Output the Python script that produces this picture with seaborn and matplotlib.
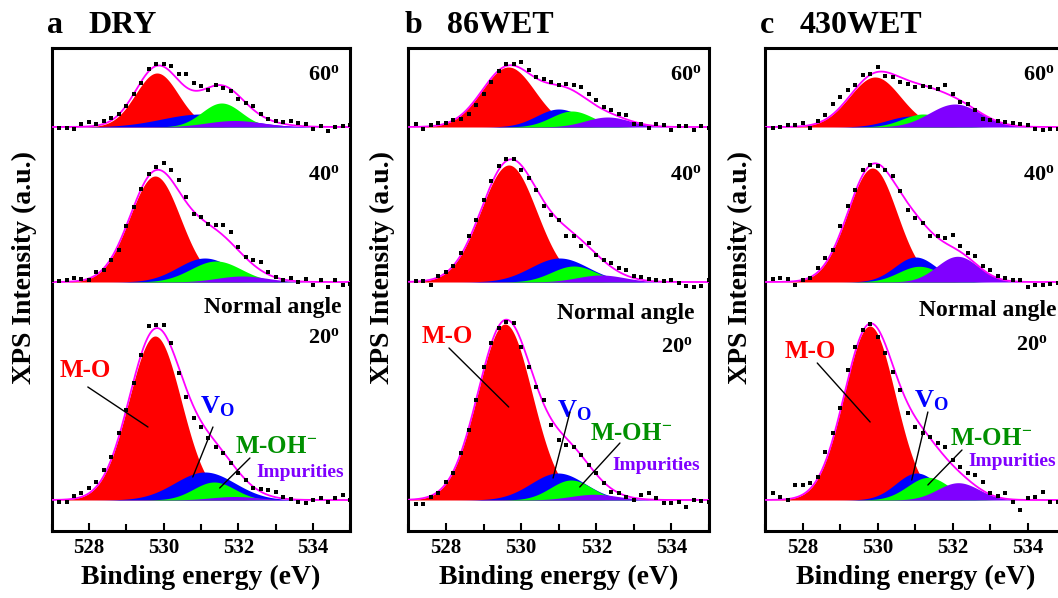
import numpy as np
import matplotlib
matplotlib.use("Agg")
import matplotlib.pyplot as plt
import seaborn as sns
from matplotlib.ticker import MultipleLocator

# ---- données ----
energy = [527.0, 527.2, 527.4, 527.6, 527.8, 528.0, 528.2, 528.4, 528.6, 528.8,
          529.0, 529.2, 529.4, 529.6, 529.8, 530.0, 530.2, 530.4, 530.6, 530.8,
          531.0, 531.2, 531.4, 531.6, 531.8, 532.0, 532.2, 532.4, 532.6, 532.8,
          533.0, 533.2, 533.4, 533.6, 533.8, 534.0, 534.2, 534.4, 534.6, 534.8, 535.0]

angles = ["60", "40", "20"]
offsets = [373, 218, 0]   # decalage vertical de chaque spectre
components = ["M-O", "V_O", "M-OH", "Impurities"]
fill_colors = ["#ff0000", "#0000ff", "#00ff00", "#8000ff"]

# points experimentaux (intensite au-dessus de la ligne de base), 60 / 40 / 20 deg
dry_60 = [-3, -1, -1, -2, 3, 5, 3, 6, 9, 13, 21, 33, 44, 58, 63, 63, 61, 53, 53, 44,
          41, 37, 42, 39, 36, 28, 24, 21, 13, 8, 6, 5, 6, 4, 3, -2, 1, -4, 0, 1, 2]
dry_40 = [2, 1, 2, 4, 3, 2, 10, 12, 22, 32, 56, 75, 93, 108, 115, 119, 112, 102, 85, 68,
          65, 58, 57, 57, 50, 35, 25, 22, 20, 10, 5, 2, 4, 0, 3, -3, 2, -5, 2, -3, -2]
dry_20 = [3, -2, -2, 4, 7, 12, 18, 30, 43, 67, 90, 117, 145, 174, 175, 175, 157, 127, 103, 82,
          73, 62, 53, 47, 37, 27, 20, 12, 11, 10, 8, 3, 1, -2, -3, 0, 2, -2, 2, 5, 0]

wet86_60 = [3, 3, -2, 2, 4, 4, 7, 8, 13, 22, 33, 45, 56, 63, 63, 65, 57, 50, 48, 45,
            42, 43, 42, 40, 33, 27, 20, 17, 13, 12, 3, 3, -1, 3, 2, -3, 1, 1, -3, 1, -1]
wet86_40 = [4, 1, 1, -3, 6, 10, 16, 29, 46, 62, 82, 101, 116, 123, 123, 112, 104, 92, 76, 67,
            62, 46, 46, 36, 39, 27, 22, 19, 14, 12, 6, 5, 3, 2, 1, 2, -1, -4, -5, -4, 2]
wet86_20 = [-2, -4, -4, 3, 7, 18, 27, 47, 70, 100, 133, 157, 172, 178, 177, 153, 133, 113, 100, 75,
            60, 55, 53, 45, 35, 27, 17, 8, 7, 3, 0, 5, 7, 2, -3, -3, -2, -7, 0, -1, -2]

wet430_60 = [-2, -1, 0, 2, 2, 4, -1, 6, 12, 23, 30, 37, 42, 52, 53, 60, 51, 50, 45, 43,
             40, 41, 40, 38, 42, 33, 25, 23, 17, 8, 7, 6, 5, 4, 3, 2, -2, -3, -2, -2, -1]
wet430_40 = [4, 3, 4, 3, -3, 2, 4, 14, 24, 32, 56, 76, 92, 112, 117, 116, 112, 106, 91, 72,
             64, 59, 46, 46, 44, 47, 36, 29, 26, 16, 12, 6, 4, 2, 2, -5, -3, -3, -2, -1, -1]
wet430_20 = [3, 7, 3, 0, 15, 15, 17, 23, 48, 67, 92, 130, 153, 170, 176, 163, 147, 128, 110, 87,
             73, 67, 63, 57, 53, 40, 33, 27, 25, 18, 7, 4, 7, -2, -10, 2, 3, 8, -2, -2, 0]

# parametres des pics ajustes [M-O, Vo, M-OH, Impuretes] pour 60 / 40 / 20 deg
dry_center = [[529.82, 531.0, 531.55, 531.9], [529.77, 531.1, 531.4, 532.1], [529.77, 531.1, 531.35, 531.9]]
dry_height = [[54, 13, 24, 6.5], [106, 24, 21, 6], [164, 28, 18, 3.5]]
dry_fwhm = [[1.35, 2.5, 1.25, 1.8], [1.6, 1.7, 1.6, 1.6], [1.65, 1.9, 1.3, 1.5]]

wet86_center = [[529.66, 531.0, 531.35, 532.3], [529.67, 531.02, 531.4, 532.12], [529.57, 530.98, 531.33, 531.95]]
wet86_height = [[60, 18, 16, 10], [117, 24, 16, 7], [176, 27, 20, 5.7]]
wet86_fwhm = [[1.65, 1.4, 1.3, 1.4], [1.75, 1.8, 1.4, 1.5], [1.7, 1.7, 1.3, 1.5]]

wet430_center = [[529.92, 530.9, 531.2, 532.05], [529.85, 531.0, 531.1, 532.12], [529.78, 531.03, 531.34, 532.14]]
wet430_height = [[50, 11, 13, 23], [114, 25, 15.7, 25.7], [174, 27, 22.7, 17.3]]
wet430_fwhm = [[1.6, 1.5, 1.3, 1.6], [1.55, 1.3, 1.3, 1.3], [1.6, 1.3, 1.3, 1.3]]

samples = ["DRY", "86WET", "430WET"]
letters = ["a", "b", "c"]

# ---- style ----
sns.set_style("ticks")
plt.rcParams['font.family'] = ['Liberation Serif', 'DejaVu Serif']
plt.rcParams['font.weight'] = 'bold'
plt.rcParams['text.color'] = 'black'
plt.rcParams['axes.labelcolor'] = 'black'
plt.rcParams['xtick.color'] = 'black'
plt.rcParams['mathtext.fontset'] = 'custom'
plt.rcParams['mathtext.rm'] = 'Liberation Serif:bold'
plt.rcParams['mathtext.it'] = 'Liberation Serif:italic:bold'
plt.rcParams['mathtext.bf'] = 'Liberation Serif:bold'


def gauss(e, c, h, w):
    return h * np.exp(-4 * np.log(2) * (e - c) ** 2 / w ** 2)


fig = plt.figure(figsize=(10.58, 5.98), dpi=100)
positions = [[0.04877, 0.11204, 0.28242, 0.80769],
             [0.38601, 0.11204, 0.28412, 0.80769],
             [0.72353, 0.11204, 0.28355, 0.80769]]

points = [[dry_60, dry_40, dry_20], [wet86_60, wet86_40, wet86_20], [wet430_60, wet430_40, wet430_20]]
centers = [dry_center, wet86_center, wet430_center]
heights = [dry_height, wet86_height, wet430_height]
fwhms = [dry_fwhm, wet86_fwhm, wet430_fwhm]

e_fine = np.linspace(527, 535, 801)

# positions des textes (x en eV, y en unites du graphe)
angle_pos = [[(534.71, 420), (534.71, 320), (534.76, 187), (534.71, 157)],
             [(534.81, 420), (534.81, 320), (534.62, 181), (534.57, 148)],
             [(534.71, 420), (534.71, 320), (534.76, 184), (534.53, 150)]]
mo_txt = [(527.22, 123), (527.36, 157), (527.52, 142)]
mo_line = [((527.97, 113), (529.58, 73)), ((528.08, 152), (529.67, 93)), ((528.38, 137), (529.79, 78))]
vo_txt = [(530.97, 87), (530.95, 83), (530.97, 93)]
vo_line = [((531.32, 73), (530.78, 23)), ((531.3, 88), (530.85, 22)), ((531.33, 88), (530.9, 20))]
oh_txt = [(531.9, 47), (531.83, 60), (531.92, 55)]
oh_line = [((532.31, 42), (531.5, 12)), ((532.63, 57), (531.56, 13)), ((532.24, 50), (531.33, 15))]
imp_txt = [(532.49, 23), (532.44, 30), (532.4, 34)]

ylab_x = [24, 382, 740]
letter_x = [47, 405, 760]
sample_x = [88, 447, 800]

for p in range(3):
    ax = fig.add_axes(positions[p])
    for k in range(3):
        base = offsets[k]
        curves = [gauss(e_fine, centers[p][k][j], heights[p][k][j], fwhms[p][k][j]) for j in range(4)]
        for curve, col in zip(curves, fill_colors):
            ax.fill_between(e_fine, base, base + curve, color=col, lw=0, zorder=1)
        envelope = base + np.sum(curves, axis=0)
        sns.lineplot(x=e_fine, y=envelope, color='#ff00ff', lw=1.3, ax=ax,
                     estimator=None, sort=False, zorder=3)
        sns.scatterplot(x=energy, y=np.array(points[p][k]) + base, marker='s', s=10,
                        color='black', linewidth=0, ax=ax, zorder=4)

    # angles
    ap = angle_pos[p]
    ax.text(ap[0][0], ap[0][1], "60$^{\\mathrm{o}}$", ha='right', va='baseline', fontsize=16, fontweight='bold')
    ax.text(ap[1][0], ap[1][1], "40$^{\\mathrm{o}}$", ha='right', va='baseline', fontsize=16, fontweight='bold')
    ax.text(ap[2][0], ap[2][1], "Normal angle", ha='right', va='baseline', fontsize=17, fontweight='bold')
    ax.text(ap[3][0], ap[3][1], "20$^{\\mathrm{o}}$", ha='right', va='baseline', fontsize=16, fontweight='bold')

    # composantes
    ax.text(*mo_txt[p], "M-O", color='#ff0000', fontsize=18, fontweight='bold', va='baseline')
    ax.plot(*zip(*mo_line[p]), color='black', lw=1, zorder=5)
    ax.text(*vo_txt[p], "V$_{\\mathrm{O}}$", color='#0000ff', fontsize=19, fontweight='bold', va='baseline')
    ax.plot(*zip(*vo_line[p]), color='black', lw=1, zorder=5)
    ax.text(*oh_txt[p], "M-OH$^{\\mathrm{-}}$", color='#009000', fontsize=18, fontweight='bold', va='baseline')
    ax.plot(*zip(*oh_line[p]), color='black', lw=1, zorder=5)
    ax.text(*imp_txt[p], "Impurities", color='#8000ff', fontsize=14, fontweight='bold', va='baseline')

    ax.set_xlim(527, 535)
    ax.set_ylim(-31, 452)
    ax.set_yticks([])
    ax.set_xticks([528, 530, 532, 534])
    ax.xaxis.set_minor_locator(MultipleLocator(1))
    ax.tick_params(axis='x', which='major', direction='in', length=6, width=1.5,
                   labelsize=15, pad=5, top=False, colors='black')
    ax.tick_params(axis='x', which='minor', direction='in', length=5, width=1.5, top=False, colors='black')
    for lab in ax.get_xticklabels():
        lab.set_fontweight('bold')
    for sp in ax.spines.values():
        sp.set_linewidth(2.2)
        sp.set_color('black')
    ax.set_xlabel("")
    ax.set_ylabel("")

    cx = positions[p][0] + positions[p][2] / 2
    fig.text(cx, 1 - 577 / 598, "Binding energy (eV)", ha='center', va='center',
             fontsize=20, fontweight='bold')
    fig.text(ylab_x[p] / 1058, 1 - 268 / 598, "XPS Intensity (a.u.)", rotation=90,
             ha='center', va='center', fontsize=20, fontweight='bold')
    fig.text(letter_x[p] / 1058, 1 - 25.5 / 598, letters[p], ha='left', va='center',
             fontsize=23, fontweight='bold')
    fig.text(sample_x[p] / 1058, 1 - 25.5 / 598, samples[p], ha='left', va='center',
             fontsize=23, fontweight='bold')

fig.savefig('out.png', dpi=100)
